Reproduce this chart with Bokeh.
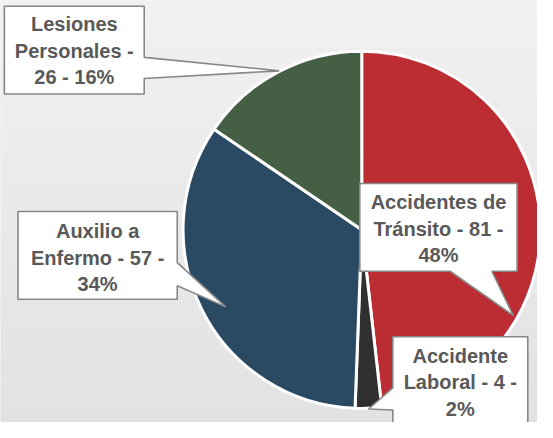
from bokeh.plotting import figure
from bokeh.models import Range1d, ColumnDataSource
from bokeh.embed import file_html
from bokeh.resources import INLINE
from bokeh.core.properties import value
import math

# ---- data ----
categories = ["Accidentes de Tránsito", "Accidente Laboral", "Auxilio a Enfermo", "Lesiones Personales"]
values = [81, 4, 57, 26]
percent_labels = ["48%", "2%", "34%", "16%"]
colors = ["#BC2D33", "#303030", "#2A4A63", "#455F44"]

# ---- layout (reference pixel coordinates, 553 x 438) ----
W, H = 537, 422
RW, RH = 553, 438
CX, CY, R = 372, 238, 184
label_breaks = [(2, 6), (1, 5), (2, 6), (1, 3)]
label_centers = [(451, 209.5), (473.5, 368.5), (100, 239.5), (76, 24.5)]
LINE_STEP = 27.5
callouts = [
    [(370, 190), (532, 190), (532, 281), (506, 281), (528, 327), (463, 281), (370, 281)],
    [(404, 349), (543, 349), (543, 442), (404, 442), (404, 425), (379, 424), (404, 402)],
    [(18, 219), (182, 219), (182, 272), (232, 318), (182, 296), (182, 310), (18, 310)],
    [(4, 6), (148, 6), (148, 59), (287, 73), (148, 81), (148, 97), (4, 97)],
]


def Y(py):
    return RH - py


p = figure(width=W, height=H, x_range=Range1d(0, RW), y_range=Range1d(0, RH),
           output_backend="svg", toolbar_location=None, min_border=0)
p.axis.visible = False
p.grid.visible = False
p.outline_line_color = None
p.background_fill_color = "#e8e8e8"
p.border_fill_color = "#e8e8e8"

# background vertical gradient
n = 60
tops, bots, cols = [], [], []
for i in range(n):
    py0 = RH * i / n
    py1 = RH * (i + 1) / n
    g = round(241 - (241 - 226) * (i + 0.5) / n)
    tops.append(Y(py0))
    bots.append(Y(py1))
    cols.append("#%02x%02x%02x" % (g, g, g))
p.quad(left=0, right=RW, top=tops, bottom=bots, fill_color=cols, line_color=None)

# pie (clockwise from 12 o'clock)
total = sum(values)
cum = [0]
for v in values:
    cum.append(cum[-1] + v)
starts, ends = [], []
for i in range(len(values)):
    a_start = math.radians(90 - cum[i] / total * 360)
    a_end = math.radians(90 - cum[i + 1] / total * 360)
    starts.append(a_end)
    ends.append(a_start)
src = ColumnDataSource(dict(start=starts, end=ends, color=colors))
p.wedge(x=CX, y=Y(CY), radius=R, start_angle="start", end_angle="end",
        direction="anticlock", fill_color="color", line_color="white",
        line_width=3, source=src)

# callouts
xs = [[pt[0] for pt in c] for c in callouts]
ys = [[Y(pt[1]) for pt in c] for c in callouts]
p.patches(xs=xs, ys=ys, fill_color="white", line_color="#878787", line_width=1.6)

# labels
tx, ty, tt = [], [], []
for i, c in enumerate(categories):
    toks = f"{c} - {values[i]} - {percent_labels[i]}".split(" ")
    b1, b2 = label_breaks[i]
    lines = [" ".join(toks[:b1]), " ".join(toks[b1:b2]), " ".join(toks[b2:])]
    cx, cy = label_centers[i]
    for k, ln in enumerate(lines):
        tx.append(cx)
        ty.append(Y(cy + k * LINE_STEP))
        tt.append(ln)
p.text(x=tx, y=ty, text=tt, text_align="center", text_baseline="middle",
       text_font=value("Liberation Sans"), text_font_style="bold",
       text_font_size="20px", text_color="#595959")

open("out.html", "w").write(file_html(p, INLINE))
